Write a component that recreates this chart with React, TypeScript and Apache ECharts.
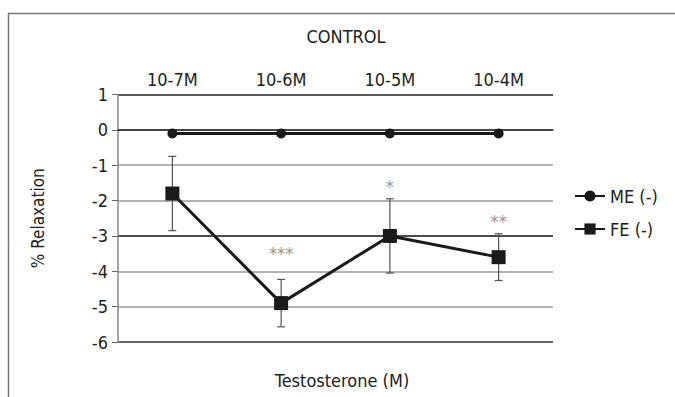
import React, { useEffect, useRef } from "react";
import * as echarts from "echarts";

const categories = ["10-7M", "10-6M", "10-5M", "10-4M"];
const meValues = [-0.1, -0.1, -0.1, -0.1];
const feValues = [-1.8, -4.9, -3.0, -3.6];
const feErrors = [1.05, 0.67, 1.05, 0.66];
const sigLabels = ["", "***", "*", "**"];
const sigY = [null, -3.5, -1.6, -2.6];
const yTicks = [-6, -5, -4, -3, -2, -1, 0, 1];

const FONT = "'Liberation Sans Narrow', 'DejaVu Sans Condensed', 'Liberation Sans', sans-serif";

export default function App() {
  const ref = useRef<HTMLDivElement>(null);
  useEffect(() => {
    if (!ref.current) return;
    document.body.style.margin = "0";
    document.body.style.overflow = "hidden";
    const chart = echarts.init(ref.current, undefined, { renderer: "svg" });
    const errData = categories.map((c, i) => [i, feValues[i] - feErrors[i], feValues[i] + feErrors[i]]);
    chart.setOption({
      animation: false,
      backgroundColor: "#fff",
      textStyle: { fontFamily: FONT },
      title: {
        text: "CONTROL",
        left: 341,
        textAlign: "center",
        top: 22,
        textStyle: { fontFamily: FONT, fontSize: 18, fontWeight: "normal", color: "#222" },
      },
      graphic: [
        {
          type: "polyline",
          shape: { points: [[8.5, 400], [8.5, 13.5], [700, 13.5]] },
          style: { stroke: "#777", lineWidth: 1.5, fill: "none" },
          silent: true,
          z: -10,
        },
        {
          type: "text",
          x: 342,
          y: 380,
          style: {
            text: "Testosterone (M)",
            font: `18px ${FONT}`,
            fill: "#222",
            textAlign: "center",
            textVerticalAlign: "middle",
          },
        },
      ],
      legend: {
        orient: "vertical",
        left: 569,
        top: 182,
        itemWidth: 30,
        itemHeight: 14,
        itemGap: 15,
        textStyle: { fontFamily: FONT, fontSize: 18, color: "#222" },
        data: ["ME (-)", "FE (-)"],
      },
      grid: { left: 118, right: 122, top: 94.5, bottom: 55 },
      xAxis: {
        type: "category",
        data: categories,
        position: "top",
        axisLine: { show: true, lineStyle: { color: "#222", width: 1.5 } },
        axisTick: { show: false },
        axisLabel: { fontFamily: FONT, fontSize: 18, color: "#222", margin: 6 },
        splitLine: { show: false },
      },
      yAxis: {
        type: "value",
        min: -6,
        max: 1,
        interval: 1,
        name: "% Relaxation",
        nameLocation: "middle",
        nameGap: 72,
        nameRotate: 90,
        nameTextStyle: { fontFamily: FONT, fontSize: 17, color: "#222" },
        axisLine: { show: true, lineStyle: { color: "#888", width: 1.5 } },
        axisTick: { show: true, length: 6, lineStyle: { color: "#666" } },
        axisLabel: {
          fontFamily: FONT,
          fontSize: 18,
          color: "#222",
          margin: 10,
          formatter: (v: number) => (yTicks.includes(v) ? String(v) : ""),
        },
        splitLine: {
          show: true,
          lineStyle: {
            color: ["#333", "#999", "#999", "#111", "#999", "#999", "#999", "#222"],
            width: 1.5,
          },
        },
      },
      series: [
        {
          name: "ME (-)",
          type: "line",
          data: meValues,
          symbol: "circle",
          symbolSize: 10,
          lineStyle: { color: "#1a1a1a", width: 3 },
          itemStyle: { color: "#1a1a1a" },
          z: 5,
        },
        {
          name: "errors",
          type: "custom",
          data: errData,
          renderItem: (params: any, api: any) => {
            const x = api.coord([api.value(0), api.value(1)])[0];
            const y1 = api.coord([api.value(0), api.value(1)])[1];
            const y2 = api.coord([api.value(0), api.value(2)])[1];
            const half = 4;
            const style = { stroke: "#555", lineWidth: 1.2, fill: "none" };
            return {
              type: "group",
              children: [
                { type: "line", shape: { x1: x, y1: y1, x2: x, y2: y2 }, style },
                { type: "line", shape: { x1: x - half, y1: y1, x2: x + half, y2: y1 }, style },
                { type: "line", shape: { x1: x - half, y1: y2, x2: x + half, y2: y2 }, style },
              ],
            };
          },
          z: 3,
        },
        {
          name: "FE (-)",
          type: "line",
          data: feValues,
          symbol: "rect",
          symbolSize: 14,
          lineStyle: { color: "#1a1a1a", width: 3 },
          itemStyle: { color: "#1a1a1a" },
          z: 6,
        },
        {
          name: "sig",
          type: "scatter",
          data: sigY.map((v, i) => (v === null ? null : [i, v])),
          symbolSize: 0,
          silent: true,
          itemStyle: { color: "#777" },
          label: {
            show: true,
            position: "inside",
            fontFamily: FONT,
            fontSize: 18,
            color: "#777",
            formatter: (p: any) => sigLabels[p.dataIndex],
          },
        },
      ],
    });
    return () => chart.dispose();
  }, []);
  return (
    <div
      ref={ref}
      style={{ position: "fixed", left: 0, top: 0, width: 675, height: 397 }}
    />
  );
}
